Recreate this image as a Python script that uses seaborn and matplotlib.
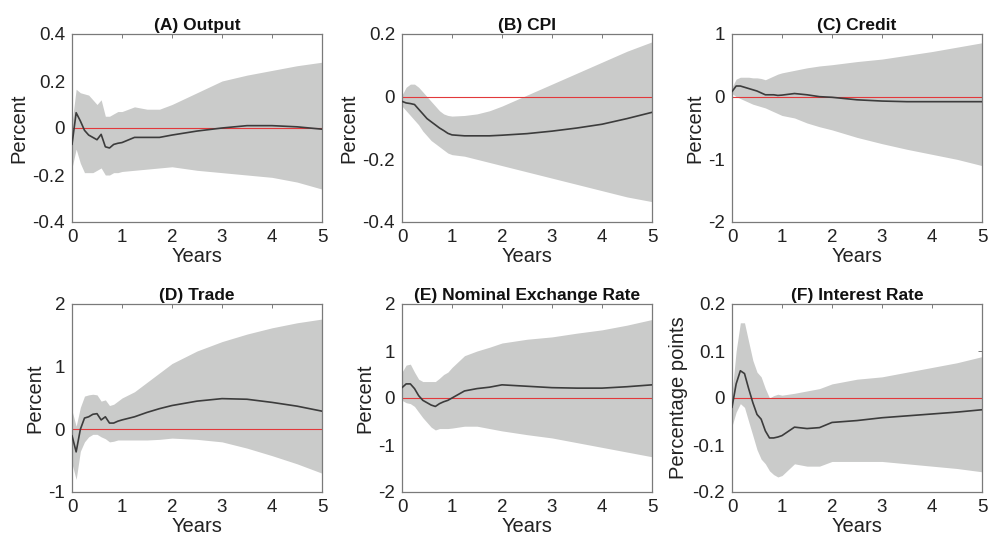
import numpy as np
import pandas as pd
import matplotlib
matplotlib.use("Agg")
import matplotlib.pyplot as plt
import seaborn as sns

# horizon (years): monthly over the first year, then coarser
years = [0, 0.083, 0.167, 0.25, 0.333, 0.417, 0.5, 0.583, 0.667, 0.75, 0.833, 0.917,
         1.0, 1.25, 1.5, 1.75, 2.0, 2.5, 3.0, 3.5, 4.0, 4.5, 5.0]

# (A) Output
output_irf = [-0.07, 0.065, 0.03, -0.01, -0.03, -0.04, -0.05, -0.027, -0.08, -0.085, -0.07, -0.065,
              -0.062, -0.04, -0.04, -0.04, -0.03, -0.013, 0.0, 0.01, 0.01, 0.005, -0.005]
output_hi = [0.02, 0.165, 0.15, 0.145, 0.14, 0.12, 0.10, 0.12, 0.05, 0.05, 0.06, 0.07,
             0.07, 0.09, 0.08, 0.08, 0.10, 0.15, 0.20, 0.225, 0.245, 0.265, 0.28]
output_lo = [-0.17, -0.09, -0.15, -0.19, -0.19, -0.19, -0.18, -0.17, -0.20, -0.20, -0.19, -0.19,
             -0.185, -0.18, -0.175, -0.17, -0.165, -0.18, -0.19, -0.20, -0.21, -0.23, -0.26]

# (B) CPI
cpi_irf = [-0.015, -0.02, -0.022, -0.025, -0.04, -0.055, -0.07, -0.08, -0.09, -0.10, -0.108, -0.117,
           -0.122, -0.125, -0.125, -0.125, -0.123, -0.118, -0.11, -0.10, -0.088, -0.07, -0.05]
cpi_hi = [0.005, 0.03, 0.04, 0.04, 0.03, 0.015, 0.0, -0.015, -0.03, -0.045, -0.055, -0.06,
          -0.062, -0.06, -0.055, -0.045, -0.03, 0.005, 0.04, 0.075, 0.11, 0.145, 0.175]
cpi_lo = [-0.03, -0.045, -0.06, -0.075, -0.09, -0.11, -0.125, -0.14, -0.15, -0.16, -0.17, -0.18,
          -0.185, -0.19, -0.20, -0.21, -0.22, -0.24, -0.26, -0.28, -0.30, -0.32, -0.335]

# (C) Credit
credit_irf = [0.08, 0.17, 0.17, 0.15, 0.13, 0.11, 0.09, 0.06, 0.03, 0.03, 0.03, 0.02,
              0.025, 0.05, 0.03, 0.0, -0.01, -0.05, -0.07, -0.08, -0.08, -0.08, -0.08]
credit_hi = [0.15, 0.28, 0.31, 0.31, 0.31, 0.30, 0.30, 0.29, 0.27, 0.30, 0.33, 0.36,
             0.38, 0.42, 0.46, 0.49, 0.51, 0.56, 0.60, 0.66, 0.72, 0.79, 0.86]
credit_lo = [0.05, 0.0, -0.03, -0.06, -0.09, -0.12, -0.14, -0.16, -0.18, -0.21, -0.24, -0.27,
             -0.30, -0.34, -0.42, -0.48, -0.53, -0.65, -0.75, -0.84, -0.92, -1.0, -1.1]

# (D) Trade
trade_irf = [-0.1, -0.36, 0.0, 0.18, 0.2, 0.24, 0.25, 0.15, 0.2, 0.1, 0.1, 0.13,
             0.15, 0.2, 0.27, 0.33, 0.38, 0.45, 0.49, 0.48, 0.43, 0.37, 0.29]
trade_hi = [0.3, 0.05, 0.35, 0.53, 0.55, 0.56, 0.55, 0.45, 0.47, 0.38, 0.40, 0.45,
            0.50, 0.60, 0.75, 0.90, 1.05, 1.25, 1.40, 1.52, 1.62, 1.70, 1.76]
trade_lo = [-0.55, -0.8, -0.35, -0.2, -0.12, -0.08, -0.08, -0.12, -0.15, -0.2, -0.19, -0.17,
            -0.17, -0.17, -0.17, -0.16, -0.14, -0.16, -0.20, -0.30, -0.42, -0.55, -0.70]

# (E) Nominal exchange rate
fx_irf = [0.22, 0.3, 0.3, 0.2, 0.05, -0.05, -0.1, -0.15, -0.18, -0.12, -0.08, -0.05,
          0.0, 0.15, 0.2, 0.23, 0.28, 0.25, 0.22, 0.21, 0.21, 0.24, 0.28]
fx_hi = [0.55, 0.7, 0.72, 0.55, 0.4, 0.35, 0.35, 0.35, 0.35, 0.42, 0.5, 0.55,
         0.65, 0.9, 1.0, 1.08, 1.17, 1.25, 1.3, 1.38, 1.45, 1.55, 1.67]
fx_lo = [-0.05, -0.1, -0.12, -0.18, -0.3, -0.42, -0.52, -0.62, -0.68, -0.65, -0.65, -0.65,
         -0.64, -0.6, -0.6, -0.65, -0.7, -0.78, -0.85, -0.95, -1.05, -1.15, -1.25]

# (F) Interest rate
rate_irf = [-0.02, 0.03, 0.058, 0.052, 0.02, -0.01, -0.035, -0.045, -0.07, -0.085, -0.085, -0.083,
            -0.08, -0.062, -0.065, -0.063, -0.052, -0.048, -0.042, -0.038, -0.034, -0.03, -0.025]
rate_hi = [0.01, 0.1, 0.16, 0.16, 0.12, 0.08, 0.055, 0.045, 0.02, 0.0, 0.005, 0.008,
           0.006, 0.01, 0.015, 0.02, 0.03, 0.04, 0.045, 0.055, 0.065, 0.075, 0.088]
rate_lo = [-0.06, -0.03, -0.012, -0.02, -0.05, -0.08, -0.11, -0.13, -0.14, -0.155, -0.163, -0.168,
           -0.165, -0.14, -0.145, -0.145, -0.135, -0.135, -0.135, -0.14, -0.145, -0.15, -0.157]

panels = [
    ("(A) Output", "Percent", output_irf, output_hi, output_lo, (-0.4, 0.4), [-0.4, -0.2, 0, 0.2, 0.4]),
    ("(B) CPI", "Percent", cpi_irf, cpi_hi, cpi_lo, (-0.4, 0.2), [-0.4, -0.2, 0, 0.2]),
    ("(C) Credit", "Percent", credit_irf, credit_hi, credit_lo, (-2, 1), [-2, -1, 0, 1]),
    ("(D) Trade", "Percent", trade_irf, trade_hi, trade_lo, (-1, 2), [-1, 0, 1, 2]),
    ("(E) Nominal Exchange Rate", "Percent", fx_irf, fx_hi, fx_lo, (-2, 2), [-2, -1, 0, 1, 2]),
    ("(F) Interest Rate", "Percentage points", rate_irf, rate_hi, rate_lo, (-0.2, 0.2), [-0.2, -0.1, 0, 0.1, 0.2]),
]

sns.set_theme(style="white")
plt.rcParams["font.family"] = ["Liberation Sans", "DejaVu Sans"]
plt.rcParams["axes.unicode_minus"] = False

fig = plt.figure(figsize=(9.91, 5.49), dpi=100)

band_color = "#cacbca"
line_color = "#3c3c3c"
zero_color = "#e2393b"
spine_color = "#7a7a7a"

lefts = [72, 402, 732]
tops = [34, 304]
w, h = 250, 188

for i, (title, ylab, irf, hi, lo, ylim, yticks) in enumerate(panels):
    row, col = divmod(i, 3)
    ax = fig.add_axes([lefts[col] / 991, 1 - (tops[row] + h) / 549, w / 991, h / 549])
    df = pd.DataFrame({"Years": years, "irf": irf, "hi": hi, "lo": lo})

    ax.fill_between(df["Years"], df["lo"], df["hi"], color=band_color, linewidth=0, zorder=1)
    ax.axhline(0, color=zero_color, linewidth=0.8, zorder=2)
    sns.lineplot(data=df, x="Years", y="irf", ax=ax, color=line_color, linewidth=1.2, zorder=3)

    ax.set_xlim(0, 5)
    ax.set_ylim(*ylim)
    ax.set_xticks([0, 1, 2, 3, 4, 5])
    ax.set_yticks(yticks)
    ax.set_yticklabels([f"{t:g}" for t in yticks])
    ax.set_title(title, fontsize=12.5, fontweight="bold", pad=3, color="#111111")
    ax.set_xlabel("Years", fontsize=14.5, labelpad=1, color="#222222")
    ax.set_ylabel(ylab, fontsize=14.5, labelpad=3, color="#222222")
    ax.tick_params(direction="in", top=True, right=True, length=3, width=0.7,
                   color=spine_color, labelsize=13.5, labelcolor="#222222", pad=5)
    for s in ax.spines.values():
        s.set_color(spine_color)
        s.set_linewidth(0.9)

plt.savefig("out.png", dpi=100)
